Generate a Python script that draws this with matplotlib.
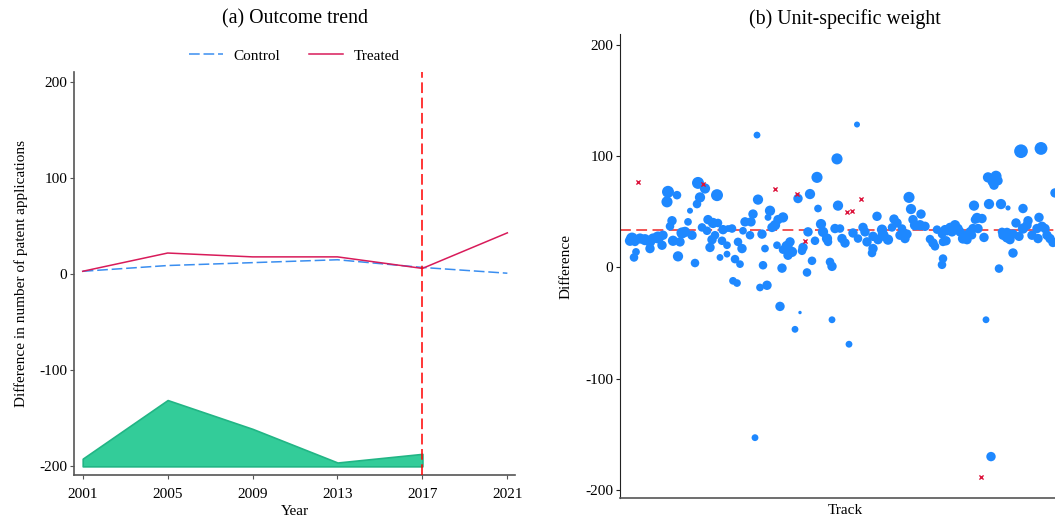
import numpy as np
import matplotlib
matplotlib.use("Agg")
import matplotlib.pyplot as plt
from matplotlib.lines import Line2D

plt.rcParams['font.family'] = ['Liberation Serif', 'DejaVu Serif']
plt.rcParams['axes.unicode_minus'] = False

# (a) outcome trend
years = [2001, 2005, 2009, 2013, 2017, 2021]
control = [3, 9, 12, 15, 7, 1]
treated = [3, 22, 18, 18, 6, 43]
fill_years = [2001, 2005, 2009, 2013, 2017]
fill_top = [-192, -131, -161, -196, -187]
fill_base = -200
treat_year = 2017

# (b) unit-specific weight: track, difference, weight
blue = [
    (12, 26, 1.4), (10, 24, 1.2), (15, 23, 1.0), (20, 26, 1.2), (25, 25, 1.3),
    (30, 23, 1.2), (33, 26, 1.2), (38, 27, 1.4), (43, 29, 1.1), (42, 20, 1.1),
    (30, 17, 1.1), (16, 14, 0.9), (14, 9, 1.0), (53, 24, 1.2), (62, 31, 1.3),
    (65, 32, 1.2), (60, 23, 1.1), (72, 29, 1.1), (58, 10, 1.2), (75, 4, 1.0),
    (92, 25, 1.1), (90, 18, 1.1), (95, 29, 1.0), (102, 24, 1.0), (107, 20, 0.9),
    (100, 9, 0.8), (107, 12, 0.8),
    (78, 76, 1.4), (85, 71, 1.2), (48, 68, 1.4), (57, 65, 1.0), (47, 59, 1.3),
    (97, 65, 1.4), (80, 63, 1.2), (77, 57, 1.0), (70, 51, 0.7), (52, 42, 1.1),
    (50, 37, 1.0), (68, 41, 0.9), (88, 43, 1.1), (93, 40, 1.2), (98, 40, 1.0),
    (82, 36, 1.0), (87, 33, 1.0), (103, 34, 1.1), (108, 35, 0.8),
    (137, 119, 0.8), (197, 81, 1.3), (190, 66, 1.2), (138, 61, 1.2), (178, 62, 1.1),
    (198, 53, 0.9), (150, 51, 1.2), (148, 45, 0.8), (133, 48, 1.1), (125, 41, 1.1),
    (131, 41, 1.1), (163, 45, 1.2), (158, 43, 1.1), (155, 38, 1.2), (152, 36, 1.1),
    (201, 39, 1.2), (203, 32, 1.2), (188, 32, 1.1), (207, 26, 1.2), (208, 23, 1.0),
    (112, 35, 1.0), (123, 33, 0.9), (130, 29, 1.0), (142, 30, 1.1), (195, 24, 1.0),
    (170, 23, 1.1), (167, 19, 1.3), (163, 16, 1.0), (172, 14, 1.2), (168, 11, 1.1),
    (183, 18, 1.1), (182, 15, 1.0), (157, 20, 0.9), (145, 17, 0.9), (118, 23, 1.0),
    (122, 17, 1.1), (115, 7.5, 1.0), (120, 3, 0.9), (143, 2, 1.0), (162, -0.6, 1.1),
    (192, 6, 1.0), (187, -4.5, 1.0), (210, 5, 1.0), (212, 1, 1.1), (113, -12, 0.9),
    (117, -14, 0.9), (140, -18, 0.9), (147, -16, 1.1), (160, -35, 1.1), (180, -40.5, 0.4),
    (175, -55.6, 0.8), (212, -47, 0.8), (229, -69, 0.8), (135, -153, 0.8),
    (366, -47, 0.8), (371, -170, 1.1),
    (237, 128.5, 0.7), (217, 97.6, 1.3), (218, 55.6, 1.2), (289, 63, 1.3), (291, 52.5, 1.2),
    (257, 46, 1.1), (301, 48, 1.1), (274, 43.5, 1.1), (277, 40, 1.1), (293, 43, 1.1),
    (215, 35, 1.1), (220, 35, 1.0), (243, 36, 1.1), (262, 34, 1.2), (272, 36, 1.0),
    (282, 35, 1.0), (295, 38, 1.2), (300, 38, 1.2), (305, 37, 1.1), (317, 34, 1.0),
    (322, 30, 1.0), (233, 31, 1.1), (245, 32, 1.1), (253, 28, 1.1), (263, 29, 1.3),
    (268, 25, 1.2), (280, 29, 1.1), (287, 30, 1.1), (285, 26, 1.1), (222, 26, 1.1),
    (225, 22, 1.1), (238, 26, 1.0), (247, 23, 1.1), (258, 25, 1.1), (310, 25.5, 1.0),
    (313, 22, 1.1), (315, 19, 1.0), (323, 23, 1.0), (253, 17, 1.1), (252, 13, 1.0),
    (323, 8, 1.0), (322, 2.4, 1.0),
    (401, 104.5, 1.6), (421, 107, 1.5), (368, 81, 1.2), (376, 82, 1.3), (373, 77.5, 1.3),
    (378, 78, 1.1), (374, 74, 1.1), (435, 67, 1.1), (354, 55.6, 1.2), (369, 57, 1.2),
    (381, 57, 1.2), (388, 53.5, 0.6), (403, 53, 1.1), (419, 45, 1.1), (357, 44.5, 1.2),
    (362, 44, 1.1), (355, 43, 1.0), (396, 40, 1.1), (408, 42, 1.1), (403, 35, 1.2),
    (407, 38, 1.1), (335, 38, 1.2), (330, 36, 1.1), (325, 34, 1.1), (338, 35, 1.1),
    (340, 32, 1.1), (353, 35, 1.1), (358, 35, 1.1), (332, 32, 1.1), (327, 33, 1.1),
    (350, 32, 1.1), (326, 24, 1.1), (345, 29, 1.1), (343, 26, 1.2), (347, 25, 1.1),
    (352, 29, 1.0), (364, 27, 1.1), (383, 29, 1.1), (387, 27, 1.2), (390, 25, 1.1),
    (393, 30, 1.1), (399, 28, 1.1), (382, 32, 1.0), (387, 31.5, 1.1), (412, 29, 1.1),
    (417, 35, 1.1), (422, 37, 1.1), (425, 35, 1.1), (427, 29, 1.1), (418, 26, 1.1),
    (430, 26, 1.1), (433, 22.5, 1.1), (393, 13, 1.1), (379, -1, 1.0),
]
red = [(18, 77), (83, 75), (155, 70.5), (177, 66), (185, 24),
       (241, 61.5), (227, 50), (232, 51), (361, -188)]
avg_diff = 34

blue_track = [b[0] for b in blue]
blue_diff = [b[1] for b in blue]
blue_w = np.array([b[2] for b in blue])
red_track = [r[0] for r in red]
red_diff = [r[1] for r in red]

W, H = 1055, 520
fig = plt.figure(figsize=(W / 100, H / 100), dpi=100)

def box(l, t, r, b):
    return [l / W, 1 - b / H, (r - l) / W, (b - t) / H]

spine_c = '#555555'

# ---- panel (a)
ax = fig.add_axes(box(74, 72, 515, 475))
ax.fill_between(fill_years, fill_base, fill_top, color='#33CC99', edgecolor='#22B585', lw=1.2, zorder=1)
ax.plot(years, control, color='#3A8EF0', lw=1.1, dashes=(7, 2.5), zorder=3)
ax.plot(years, treated, color='#D81B5A', lw=1.1, zorder=3)
ax.axvline(treat_year, color='red', lw=1.1, dashes=(7, 3), zorder=4, clip_on=False)
ax.set_xlim(2000.59, 2021.36)
ax.set_ylim(-209, 210.4)
ax.set_xticks(years)
ax.set_yticks([-200, -100, 0, 100, 200])
ax.set_xlabel('Year', fontsize=11, labelpad=3)
ax.set_ylabel('Difference in number of patent applications', fontsize=11, labelpad=8)
for s in ['top', 'right']:
    ax.spines[s].set_visible(False)
for s in ['left', 'bottom']:
    ax.spines[s].set_color(spine_c)
    ax.spines[s].set_linewidth(1.2)
ax.tick_params(labelsize=11, length=3, width=0.8, color=spine_c, pad=2)
ax.tick_params(axis='x', pad=6)
handles = [Line2D([], [], color='#3A8EF0', lw=1.1, dashes=(7, 2.5)),
           Line2D([], [], color='#D81B5A', lw=1.1)]
ax.legend(handles, ['Control', 'Treated'], loc='lower center', bbox_to_anchor=(0.5, 1.0),
          ncol=2, frameon=False, fontsize=11, handlelength=2.2, handletextpad=0.7,
          columnspacing=1.9, borderaxespad=0.2)
fig.text(295 / W, 1 - 19 / H, '(a) Outcome trend', ha='center', va='center', fontsize=14.3)

# ---- panel (b)
bx = fig.add_axes(box(620, 34.3, 1070, 498.3))
bx.axhline(avg_diff, color='#F04848', lw=1.3, dashes=(6, 3), zorder=1)
bx.scatter(blue_track, blue_diff, s=38 * blue_w ** 2, color='#1E88FF', lw=0, zorder=2)
bx.scatter(red_track, red_diff, s=9, marker='x', color='#DC143C', lw=1, zorder=3)
bx.set_xlim(0, 450)
bx.set_ylim(-207.5, 209.6)
bx.set_xticks([])
bx.set_yticks([-200, -100, 0, 100, 200])
bx.set_xlabel('Track', fontsize=11, labelpad=4)
bx.set_ylabel('Difference', fontsize=11, labelpad=9)
for s in ['top', 'right']:
    bx.spines[s].set_visible(False)
bx.spines['left'].set_color('#222222')
bx.spines['bottom'].set_color(spine_c)
bx.spines['bottom'].set_linewidth(1.2)
bx.tick_params(labelsize=11, length=3, width=0.8, color='#222222', pad=2)
fig.text(845 / W, 1 - 19 / H, '(b) Unit-specific weight', ha='center', va='center', fontsize=14.3)

fig.savefig('out.png', dpi=100)
